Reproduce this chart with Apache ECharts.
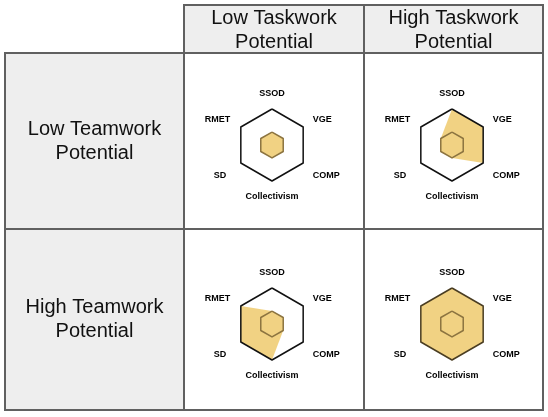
<!DOCTYPE html>
<html>
<head>
<meta charset="utf-8">
<script src="https://cdn.jsdelivr.net/npm/echarts@6/dist/echarts.min.js"></script>
<style>
html,body{margin:0;padding:0;background:#fff;}
#chart{width:548px;height:417px;}
</style>
</head>
<body>
<div id="chart"></div>
<script>
// Radar indicators (listed in ECharts' counter-clockwise order starting at top)
var indicators = ['SSOD', 'RMET', 'SD', 'Collectivism', 'COMP', 'VGE'];
var maxValue = 1;
var columnLabels = ['Low Taskwork\nPotential', 'High Taskwork\nPotential'];
var rowLabels = ['Low Teamwork\nPotential', 'High Teamwork\nPotential'];
// values in order SSOD, RMET, SD, Collectivism, COMP, VGE
var baseline        = [0.36, 0.36, 0.36, 0.36, 0.36, 0.36];
var outline         = [1, 1, 1, 1, 1, 1];
var lowTeamLowTask  = [0.36, 0.36, 0.36, 0.36, 0.36, 0.36];
var lowTeamHighTask = [1, 0.36, 0.36, 0.36, 1, 1];
var highTeamLowTask = [0.36, 1, 1, 1, 0.36, 0.36];
var highTeamHighTask= [1, 1, 1, 1, 1, 1];
var cellValues = [[lowTeamLowTask, lowTeamHighTask], [highTeamLowTask, highTeamHighTask]];

var colX = [5, 184, 364, 543];
var rowY = [5, 53, 229, 410];
var FONT = '"Liberation Sans", Arial, sans-serif';
var BORDER = '#606060';

var chart = echarts.init(document.getElementById('chart'), null, {renderer: 'canvas'});

var graphics = [];
function cell(x0, y0, x1, y1, fill) {
  graphics.push({type: 'rect', z: 0, shape: {x: x0, y: y0, width: x1 - x0, height: y1 - y0},
    style: {fill: fill, stroke: BORDER, lineWidth: 2}});
}
function label(txt, cx, cy) {
  graphics.push({type: 'text', z: 1, x: cx, y: cy,
    style: {text: txt, fontSize: 20, fontFamily: FONT, fill: '#111', align: 'center', verticalAlign: 'middle', lineHeight: 24}});
}
// header cells
for (var c = 0; c < 2; c++) {
  cell(colX[c + 1], rowY[0], colX[c + 2], rowY[1], '#eeeeee');
  label(columnLabels[c], (colX[c + 1] + colX[c + 2]) / 2, (rowY[0] + rowY[1]) / 2 + 1);
}
for (var r = 0; r < 2; r++) {
  cell(colX[0], rowY[r + 1], colX[1], rowY[r + 2], '#eeeeee');
  label(rowLabels[r], (colX[0] + colX[1]) / 2, (rowY[r + 1] + rowY[r + 2]) / 2);
  for (var c2 = 0; c2 < 2; c2++) {
    cell(colX[c2 + 1], rowY[r + 1], colX[c2 + 2], rowY[r + 2], '#ffffff');
  }
}

var nameStyle = {fontSize: 9, fontWeight: 'bold', fontFamily: FONT, color: '#000'};
var richStyles = {
  n: nameStyle,
  up: Object.assign({padding: [0, 0, 3, 0]}, nameStyle),
  dn: Object.assign({padding: [14, 0, 0, 0]}, nameStyle),
  dl: Object.assign({padding: [14, 5, 0, 0]}, nameStyle),
  rm: Object.assign({padding: [0, 1, 3, 0]}, nameStyle)
};
var nameKey = {SSOD: 'n', Collectivism: 'n', VGE: 'up', RMET: 'rm', COMP: 'dn', SD: 'dl'};

var radars = [];
var series = [];
var centers = [[[272, 145], [452, 145]], [[272, 324], [452, 324]]];
for (var rr = 0; rr < 2; rr++) {
  for (var cc = 0; cc < 2; cc++) {
    var idx = radars.length;
    radars.push({
      center: centers[rr][cc],
      radius: 36,
      startAngle: 90,
      splitNumber: 1,
      shape: 'polygon',
      nameGap: 11,
      indicator: indicators.map(function (n) { return {name: n, max: maxValue, min: 0}; }),
      axisName: {
        color: '#000', fontSize: 9, fontWeight: 'bold', fontFamily: FONT,
        formatter: function (name) { return '{' + nameKey[name] + '|' + name + '}'; },
        rich: richStyles
      },
      axisLine: {show: false},
      splitLine: {show: false},
      splitArea: {show: false},
      axisTick: {show: false},
      axisLabel: {show: false}
    });
    series.push({
      type: 'radar', radarIndex: idx, z: 3, symbol: 'none', silent: true,
      lineStyle: {width: 0, opacity: 0},
      areaStyle: {color: '#ecc35a', opacity: 0.75},
      data: [{value: cellValues[rr][cc]}]
    });
    series.push({
      type: 'radar', radarIndex: idx, z: 4, symbol: 'none', silent: true,
      lineStyle: {color: '#8c7440', width: 1.5},
      data: [{value: baseline}]
    });
    series.push({
      type: 'radar', radarIndex: idx, z: 4, symbol: 'none', silent: true,
      lineStyle: {color: cellValues[rr][cc] === highTeamHighTask ? '#4a3d22' : '#111', width: 1.5},
      data: [{value: outline}]
    });
  }
}

chart.setOption({
  animation: false,
  backgroundColor: '#ffffff',
  graphic: graphics,
  radar: radars,
  series: series
});
</script>
</body>
</html>
